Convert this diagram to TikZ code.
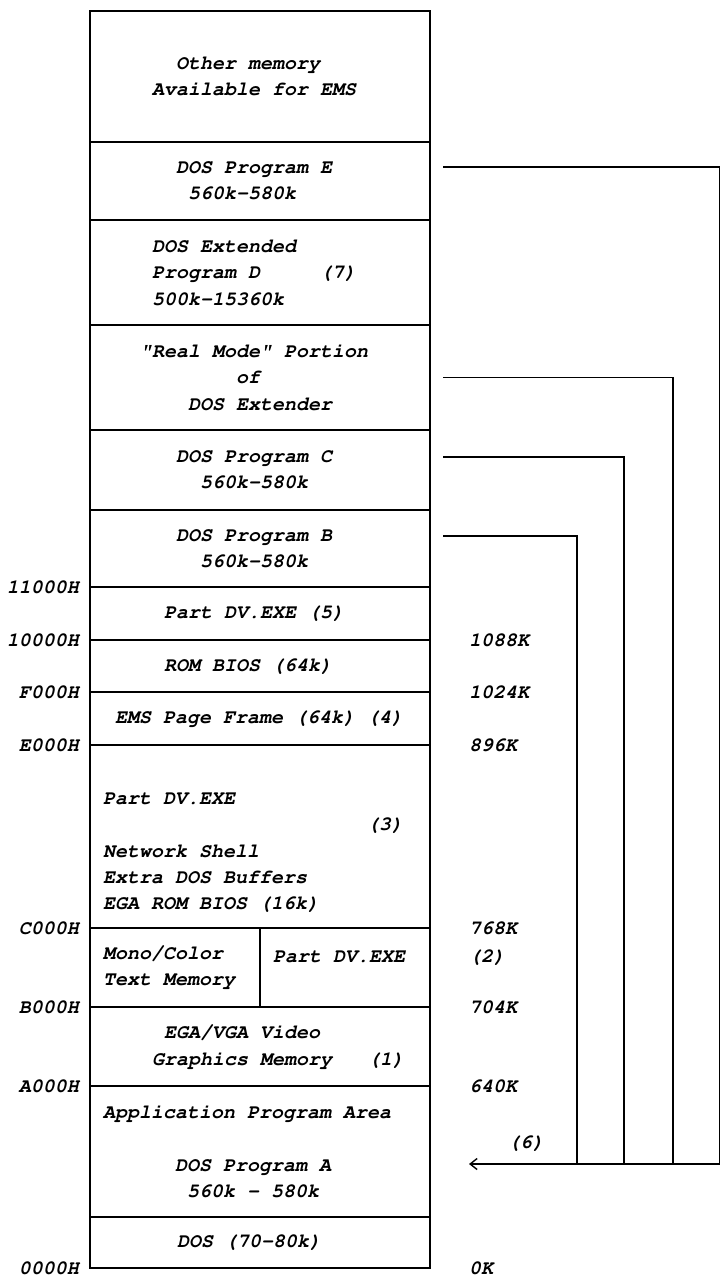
\documentclass[tikz,border=0pt]{standalone}
\usepackage[T1]{fontenc}
\usetikzlibrary{arrows.meta,positioning}
\newcommand{\memfont}{\fontfamily{pcr}\fontseries{b}\fontshape{sl}\fontsize{20}{26.4}\selectfont}
\tikzset{
  memblock/.style={draw=black, line width=1.4pt, outer sep=0pt, inner sep=0pt, minimum width=340pt},
  halfblock/.style={memblock, minimum width=170pt},
  memtext/.style={align=left, inner sep=0pt, font=\memfont},
  addr/.style={inner sep=0pt, font=\memfont},
  link/.style={line width=1.3pt},
  backarrow/.style={-{Straight Barb[length=7pt,width=11pt,line width=1.4pt]}, line width=1.3pt}
}
\begin{document}
\begin{tikzpicture}[x=1pt, y=-1pt]
\useasboundingbox (0,0) rectangle (721,1277);
\node[memblock, minimum height=131pt, anchor=north west] (other) at (90,11) {};
\node[memblock, minimum height=78pt, below=0pt of other] (progE) {};
\node[memblock, minimum height=105pt, below=0pt of progE] (progD) {};
\node[memblock, minimum height=105pt, below=0pt of progD] (realmode) {};
\node[memblock, minimum height=80pt, below=0pt of realmode] (progC) {};
\node[memblock, minimum height=77pt, below=0pt of progC] (progB) {};
\node[memblock, minimum height=53pt, below=0pt of progB] (part5) {};
\node[memblock, minimum height=52pt, below=0pt of part5] (rom) {};
\node[memblock, minimum height=53pt, below=0pt of rom] (ems) {};
\node[memblock, minimum height=183pt, below=0pt of ems] (dv3) {};
\node[halfblock, minimum height=79pt, below right=0pt and 0pt of dv3.south west] (monoL) {};
\node[halfblock, minimum height=79pt, right=0pt of monoL] (monoR) {};
\node[memblock, minimum height=79pt, below right=0pt and 0pt of monoL.south west] (ega) {};
\node[memblock, minimum height=131pt, below=0pt of ega] (app) {};
\node[memblock, minimum height=51pt, below=0pt of app] (dos) {};

\node[memtext, right=62pt of other.west] (other-t) {~~Other memory\\Available for EMS};
\node[memtext, right=86pt of progE.west] (progE-t) {DOS Program E\\~560k-580k};
\node[memtext, right=62pt of progD.west] (progD-t) {DOS Extended\\Program D~~~~~(7)\\500k-15360k};
\node[memtext, right=50pt of realmode.west] (realmode-t) {"Real Mode" Portion\\~~~~~~~~of\\~~~~DOS Extender};
\node[memtext, right=86pt of progC.west] (progC-t) {DOS Program C\\~~560k-580k};
\node[memtext, right=86pt of progB.west] (progB-t) {DOS Program B\\~~560k-580k};
\node[memtext, right=74pt of part5.west] (part5-t) {Part DV.EXE (5)};
\node[memtext, right=74pt of rom.west] (rom-t) {ROM BIOS (64k)};
\node[memtext, right=25pt of ems.west] (ems-t) {EMS Page Frame (64k) (4)};
\node[memtext, right=13pt of dv3.west, yshift=-16pt] (dv3-t) {Part DV.EXE\\\hspace*{264pt}(3)\\Network Shell\\Extra DOS Buffers\\EGA ROM BIOS (16k)};
\node[memtext, right=13pt of monoL.west] (monoL-t) {Mono/Color\\Text Memory};
\node[memtext, right=13pt of monoR.west, yshift=10pt] (monoR-t) {Part DV.EXE};
\node[memtext, right=62pt of ega.west] (ega-t) {~EGA/VGA Video\\Graphics Memory~~~(1)};
\node[memtext, right=13pt of app.west] (app-t) {Application Program Area\\~\\~~~~~~DOS Program A\\~~~~~~~560k - 580k};
\node[memtext, right=87pt of dos.west] (dos-t) {DOS (70-80k)};

\node[addr, left=11pt of part5.north west] (a11000) {11000H};
\node[addr, left=11pt of rom.north west] (a10000) {10000H};
\node[addr, left=11pt of ems.north west] (aF000) {F000H};
\node[addr, left=11pt of dv3.north west] (aE000) {E000H};
\node[addr, left=11pt of monoL.north west] (aC000) {C000H};
\node[addr, left=11pt of ega.north west] (aB000) {B000H};
\node[addr, left=11pt of app.north west] (aA000) {A000H};
\node[addr, left=11pt of dos.south west] (a0000) {0000H};

\node[addr, right=39pt of rom.north east] (k1088) {1088K};
\node[addr, right=39pt of ems.north east] (k1024) {1024K};
\node[addr, right=39pt of dv3.north east] (k896) {896K};
\node[addr, right=39pt of monoR.north east] (k768) {768K};
\node[addr, right=39pt of monoR.east, yshift=10pt] (note2) {(2)};
\node[addr, right=39pt of ega.north east] (k704) {704K};
\node[addr, right=39pt of app.north east] (k640) {640K};
\node[addr, right=39pt of dos.south east] (k0) {0K};

\coordinate[right=13pt of progE.east, yshift=14pt] (outE);
\coordinate[right=13pt of realmode.east] (outR);
\coordinate[right=13pt of progC.east, yshift=13pt] (outC);
\coordinate[right=13pt of progB.east, yshift=12.5pt] (outB);
\coordinate (busE) at (719.5,1164);
\coordinate (busR) at (673,1164);
\coordinate (busC) at (624,1164);
\coordinate (busB) at (577,1164);
\coordinate (tip) at (469,1164);
\draw[link] (outE) -| (busE);
\draw[link] (outR) -| (busR);
\draw[link] (outC) -| (busC);
\draw[link] (outB) -| (busB);
\draw[backarrow] (busE) -- (tip);
\node[memtext, above right=13pt and 39pt of tip] (note6) {(6)};
\end{tikzpicture}
\end{document}
